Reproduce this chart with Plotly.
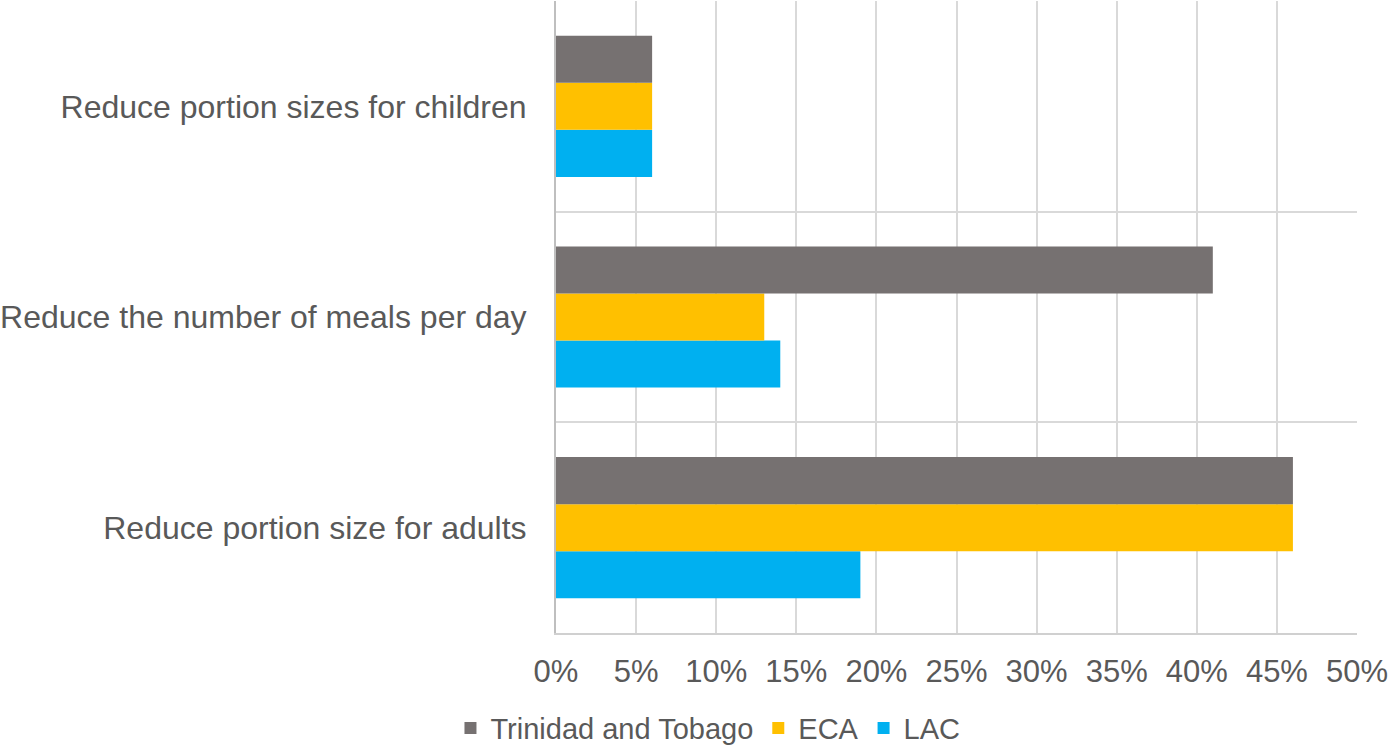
import plotly.graph_objects as go

categories = ["Reduce portion size for adults", "Reduce the number of meals per day", "Reduce portion sizes for children"]
tt_values = [0.46, 0.41, 0.06]
eca_values = [0.46, 0.13, 0.06]
lac_values = [0.19, 0.14, 0.06]
x_ticks = [0, 0.05, 0.10, 0.15, 0.20, 0.25, 0.30, 0.35, 0.40, 0.45, 0.50]

FONT = "Liberation Sans, Arial, sans-serif"
TXT = "#595959"

fig = go.Figure()
fig.add_trace(go.Bar(y=categories, x=lac_values, name="LAC", orientation="h",
                     marker=dict(color="#00B0F0", line=dict(width=0))))
fig.add_trace(go.Bar(y=categories, x=eca_values, name="ECA", orientation="h",
                     marker=dict(color="#FFC000", line=dict(width=0))))
fig.add_trace(go.Bar(y=categories, x=tt_values, name="Trinidad and Tobago", orientation="h",
                     marker=dict(color="#767171", line=dict(width=0))))

fig.update_layout(
    width=1392, height=746,
    margin=dict(l=556, r=35, t=1, b=113),
    paper_bgcolor="white", plot_bgcolor="white",
    barmode="group", bargap=0.33, bargroupgap=0,
    font=dict(family=FONT, color=TXT),
    showlegend=True,
    legend=dict(orientation="h", traceorder="reversed",
                xref="container", yref="container",
                x=0.5086, xanchor="center", y=0.024, yanchor="middle",
                font=dict(size=29, color=TXT, family=FONT),
                itemwidth=30, tracegroupgap=0),
    xaxis=dict(range=[0, 0.5], tickvals=x_ticks, tickformat=".0%", automargin=False,
               showgrid=True, gridcolor="#d9d9d9", gridwidth=2,
               showline=True, linecolor="#d0d0d0", linewidth=2,
               zeroline=False, ticks="outside", ticklen=10, tickcolor="rgba(0,0,0,0)",
               tickfont=dict(size=31, color=TXT, family=FONT)),
    yaxis=dict(type="category", tickson="boundaries", showgrid=True, gridcolor="#d9d9d9", gridwidth=2,
               showline=True, linecolor="#bfbfbf", linewidth=2, automargin=False,
               ticks="", ticklabelstandoff=21,
               tickfont=dict(size=32, color=TXT, family=FONT)),
)

fig.write_html("out.html", config={"displayModeBar": False},
               post_script="document.body.style.margin='0';document.body.style.padding='0';")
